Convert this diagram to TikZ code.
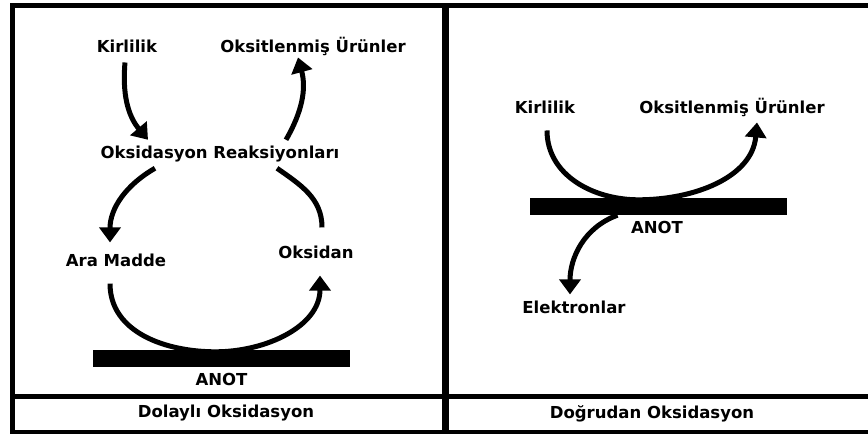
\documentclass[tikz,border=0pt]{standalone}
\usepackage{fontspec}
\setmainfont{DejaVu Sans}
\usetikzlibrary{arrows.meta}

\tikzset{
  lbl/.style={font=\fontsize{16.5}{20}\selectfont\bfseries, inner sep=6pt},
  anotbar/.style={fill=black, minimum width=257pt, minimum height=17pt, inner sep=0pt},
  flow/.style={line width=5pt, -{Triangle[width=21pt,length=15pt]}},
  frame/.style={line width=5pt}
}

\begin{document}
\begin{tikzpicture}[x=1pt, y=1pt]
\clip (0,0) rectangle (868,-434);
\draw[frame] (12.3,-432) rectangle (880,-5);
\draw[frame] (12.3,-396) -- (880,-396);
\draw[line width=7.5pt] (445.5,-5) -- (445.5,-432);

\node[lbl] (kir1) at (127,-46) {Kirlilik};
\node[lbl] (urun1) at (313,-46) {Oksitlenmiş Ürünler};
\node[lbl] (reak) at (220,-154) {Oksidasyon Reaksiyonları};
\node[lbl] (ara) at (116,-260) {Ara Madde};
\node[lbl] (oksn) at (316,-252) {Oksidan};
\node[anotbar] (anot1) at (221.5,-358.5) {};
\node[lbl, below=0pt] (anotlbl1) at (anot1.south) {ANOT};
\node[lbl] (title1) at (226,-413) {Dolaylı Oksidasyon};

\draw[flow] ([xshift=-2pt,yshift=-4pt]kir1.south) to[out=-95, in=130] ([xshift=-72pt]reak.north);
\draw[flow] ([xshift=66pt]reak.north) to[out=60, in=-75] ([xshift=-15pt,yshift=4pt]urun1.south);
\draw[flow] ([xshift=-65pt]reak.south) to[out=-150, in=90] ([xshift=-6pt,yshift=5pt]ara.north);
\draw[flow, -] ([xshift=6pt,yshift=12pt]oksn.north) to[out=90, in=-35] ([xshift=57pt]reak.south);
\draw[flow] ([xshift=-6pt,yshift=-11pt]ara.south) to[out=-90, in=180] ([xshift=-6pt,yshift=-2pt]anot1.north)
  to[out=0, in=-90] ([xshift=4pt,yshift=-11pt]oksn.south);

\node[lbl] (kir2) at (545,-107) {Kirlilik};
\node[lbl] (urun2) at (732,-107) {Oksitlenmiş Ürünler};
\node[anotbar] (anot2) at (658.5,-206.5) {};
\node[lbl] (anotlbl2) at (657,-227) {ANOT};
\node[lbl] (elek) at (574,-307) {Elektronlar};
\node[lbl] (title2) at (652,-414) {Doğrudan Oksidasyon};

\draw[flow] ([xshift=2pt,yshift=-11pt]kir2.south) to[out=-90, in=180] ([xshift=-20pt,yshift=-2pt]anot2.north)
  to[out=0, in=-95] ([xshift=25pt]urun2.south);
\draw[flow] ([xshift=-41pt]anot2.south) to[out=200, in=90] ([xshift=-4pt]elek.north);
\end{tikzpicture}
\end{document}
